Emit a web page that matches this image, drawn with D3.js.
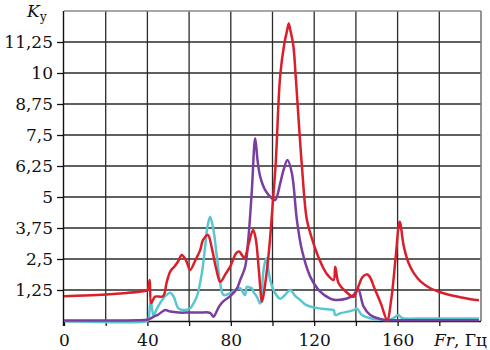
<!DOCTYPE html>
<html><head><meta charset="utf-8">
<script src="https://cdn.jsdelivr.net/npm/d3@7"></script>
<style>body{margin:0;background:#fff}</style>
</head><body><svg id="c" width="490" height="350"></svg>
<script>
// ---- data ----
const xGridValues = [0,20,40,60,80,100,120,140,160,180];
const xTickLabels = [0,40,80,120,160];
const yTickValues = [1.25,2.5,3.75,5,6.25,7.5,8.75,10,11.25];

const redSeries = [
 [0,1.0],[10,1.03],[20,1.07],[30,1.13],[38,1.2],[40,1.24],[41.1,1.65],[41.8,0.72],[43.7,0.98],[47.5,1.0],
 [49.3,1.58],[51,2.0],[53,2.2],[54.7,2.4],[56.5,2.66],[58.5,2.45],[60.5,2.06],[63,2.45],[65.3,2.86],[66.7,3.27],
 [69,3.47],[71,2.9],[73,2.1],[75,1.58],[77.5,1.9],[79.7,2.19],[82.6,2.74],[84,2.8],[86.5,2.55],[88.5,3.1],
 [90.7,3.67],[92,3.3],[93.5,2.0],[95,0.78],[96.5,1.5],[98.5,3.0],[100,4.6],[101.5,6.3],[103.7,9.9],[105.7,11.2],
 [107.1,11.75],[107.8,12.0],[108.5,11.75],[110.0,11.1],[111.1,9.9],[114.1,6.25],[116.5,4.07],[119,3.3],[121.3,2.73],[124,2.2],[126.5,1.85],
 [129.3,1.65],[130.1,2.19],[131.7,1.52],[135,1.2],[138.9,0.98],[141,1.35],[143,1.75],[145,1.88],[146.5,1.8],
 [149,1.3],[152,0.7],[155,0.05],[157,0.9],[159,2.5],[161,4.0],[163,3.0],[165.3,2.33],[168,1.9],[171,1.6],
 [175.7,1.32],[179.7,1.18],[185,1.05],[190,0.96],[195,0.88],[199,0.84]
];
const purpleSeries = [
 [0,0.02],[20,0.02],[35,0.03],[40,0.05],[41.5,0.1],[42.9,0.17],[45,0.25],[48.5,0.44],[51,0.38],[55,0.34],
 [60,0.34],[65,0.34],[70,0.33],[71.7,0.17],[73,0.35],[74.5,0.6],[76.5,0.8],[79.7,1.0],[82.9,1.3],[84.5,1.65],
 [86.9,2.19],[88.5,3.4],[90.1,5.28],[91.7,7.37],[92.8,6.5],[94.1,5.82],[96.5,5.28],[99.7,4.95],[101.3,4.88],
 [103.7,5.55],[105.3,6.09],[107.2,6.49],[109.3,5.96],[111.7,4.07],[114.1,2.86],[118.1,1.79],[122.9,1.18],
 [127.7,0.9],[130,0.85],[135.7,0.91],[138.9,1.05],[141,1.3],[143.7,0.58],[146.9,0.24],[151.7,0.08],[155,0.03],
 [160,0.03],[170,0.03],[199,0.03]
];
const cyanSeries = [
 [0,0.0],[40,0.0],[40.5,0.05],[41.6,0.85],[42.9,0.2],[44,0.4],[46,0.71],[48.5,1.0],[50.9,1.14],[52.5,1.0],
 [54.9,0.51],[57.3,0.44],[60.5,0.51],[62,0.7],[63.7,0.98],[66.1,1.92],[67.7,3.0],[68.8,3.8],[70.1,4.2],
 [71.7,3.67],[73.3,2.59],[74.9,1.52],[76.5,1.05],[79.7,1.12],[82,1.25],[84.5,1.32],[86.2,1.1],[86.9,1.05],
 [87.7,1.38],[89,1.35],[90.1,1.32],[91,1.15],[92.5,0.98],[94.1,0.71],[95.7,2.06],[97,2.53],[98.9,1.65],
 [101.3,1.12],[103.7,0.9],[106,1.05],[108.5,1.25],[111,1.0],[113.3,0.85],[116,0.65],[119.7,0.55],[126.1,0.47],
 [129.3,0.44],[130.1,0.24],[132.5,0.31],[138.9,0.44],[140.5,0.5],[142.9,0.24],[146.9,0.11],[152,0.05],
 [156,0.05],[158,0.12],[160.4,0.24],[162,0.12],[170,0.1],[199,0.1]
];

// ---- chart ----
const svg = d3.select("#c");
const x = d3.scaleLinear().domain([0,200]).range([64,481]);
const y = d3.scaleLinear().domain([0,12.5]).range([321,11]);
const fmt = d3.formatLocale({decimal: ",", thousands: " ", grouping: [3], currency: ["",""]}).format("~g");
const font = "DejaVu Serif";

// grid
svg.append("g").selectAll("line").data(xGridValues.slice(1)).join("line")
  .attr("x1", d => x(d)).attr("x2", d => x(d)).attr("y1", y(12.5)).attr("y2", y(0))
  .attr("stroke", "#2b2b2b").attr("stroke-width", 1.3);
svg.append("g").selectAll("line").data(yTickValues).join("line")
  .attr("x1", x(0)).attr("x2", x(200)).attr("y1", d => y(d)).attr("y2", d => y(d))
  .attr("stroke", "#2b2b2b").attr("stroke-width", 1.3);
// top and right border
svg.append("line").attr("x1", x(0)).attr("x2", x(200)).attr("y1", y(12.5)).attr("y2", y(12.5))
  .attr("stroke", "#8a8a8a").attr("stroke-width", 1.3);
svg.append("line").attr("x1", x(200)).attr("x2", x(200)).attr("y1", y(12.5)).attr("y2", y(0))
  .attr("stroke", "#7a7a7a").attr("stroke-width", 1.6);

// axes
const yAxis = svg.append("g").attr("transform", `translate(${x(0)},0)`)
  .call(d3.axisLeft(y).tickValues(yTickValues).tickSize(7).tickPadding(4).tickFormat(fmt));
const xAxis = svg.append("g").attr("transform", `translate(0,${y(0)})`)
  .call(d3.axisBottom(x).tickValues(xGridValues).tickSize(5).tickPadding(8)
    .tickFormat(d => xTickLabels.includes(d) ? fmt(d) : ""));
[yAxis, xAxis].forEach(g => {
  g.attr("font-family", font).attr("font-size", 17);
  g.selectAll("text").attr("fill", "#111");
  g.selectAll("line").attr("stroke", "#111").attr("stroke-width", 1.3);
  g.select(".domain").attr("stroke", "#111").attr("stroke-width", 1.4);
});
yAxis.select(".domain").attr("d", `M-0.5,${y(12.5)}V${y(0)+5}`);
xAxis.select(".domain").attr("d", `M${x(0)},0.5H${x(200)}`);

// series
const line = d3.line().x(d => x(d[0])).y(d => y(d[1])).curve(d3.curveCatmullRom.alpha(0.5));
[[cyanSeries, "#5cc6d0"], [purpleSeries, "#7a3e9e"], [redSeries, "#da1f2b"]].forEach(([s, c]) => {
  svg.append("path").datum(s).attr("d", line).attr("fill", "none")
    .attr("stroke", c).attr("stroke-width", 2.5).attr("stroke-linejoin", "round");
});

// axis titles
const yt = svg.append("text").attr("x", 27).attr("y", 17).attr("font-family", font).attr("fill", "#111");
yt.append("tspan").attr("font-style", "italic").attr("font-size", 17).text("K");
yt.append("tspan").attr("font-size", 12).attr("dy", 4).text("у");
const xt = svg.append("text").attr("x", 487).attr("y", 346).attr("text-anchor", "end")
  .attr("font-family", font).attr("font-size", 17).attr("fill", "#111");
xt.append("tspan").attr("font-style", "italic").text("Fr");
xt.append("tspan").text(", Гц");
</script></body></html>
